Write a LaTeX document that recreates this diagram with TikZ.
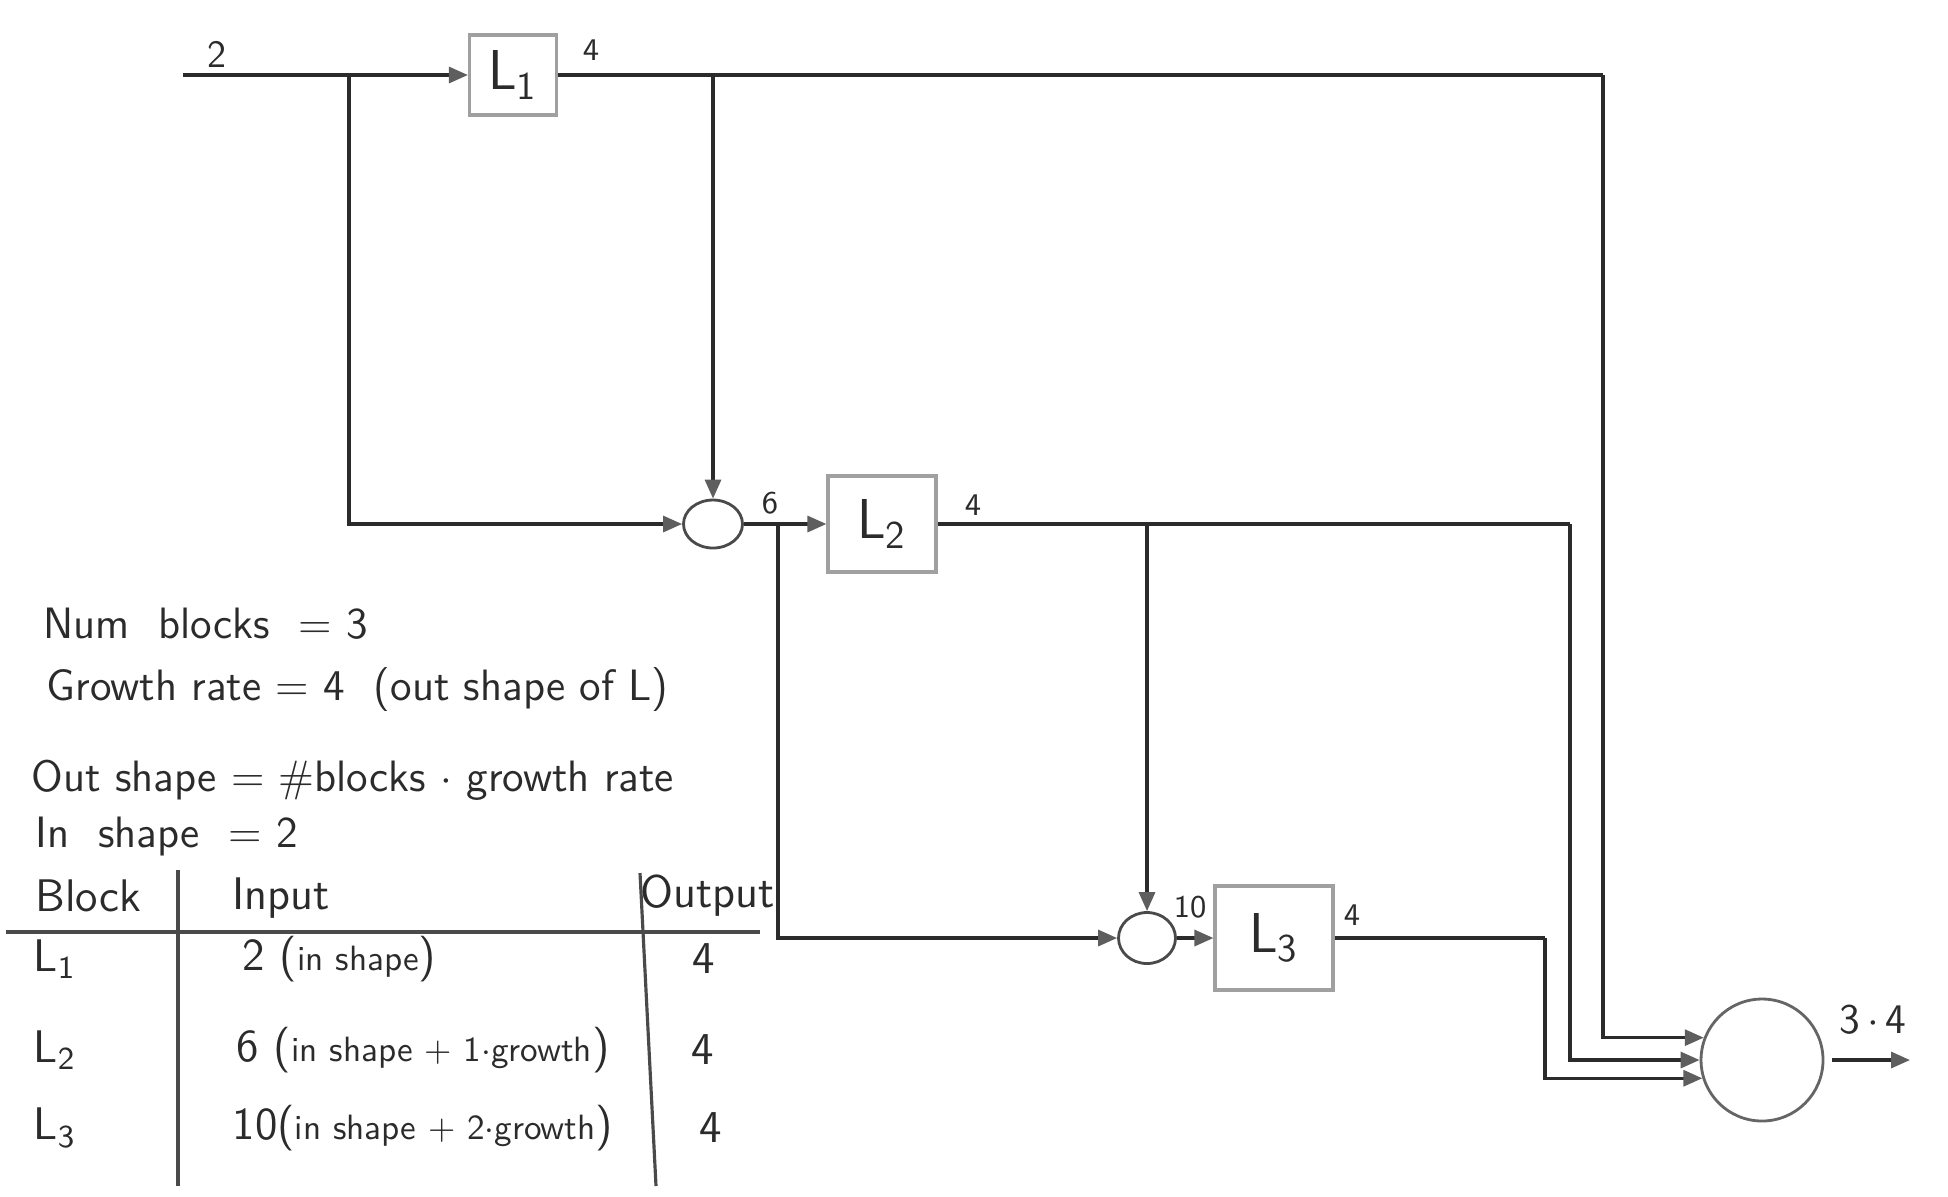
\documentclass[tikz,border=0pt]{standalone}
\usepackage{amsmath,amssymb}
\usepackage{xcolor}
\usepackage{tikz}
\usetikzlibrary{
  arrows.meta, positioning, shapes.geometric, calc
}
\definecolor{dnInk}{HTML}{2B2B2B}
\definecolor{dnPencil}{HTML}{A0A0A0}
\definecolor{dnTip}{HTML}{5E5E5E}
\definecolor{dnRing}{HTML}{4A4A4A}
\newcommand{\sz}[1]{\fontsize{#1}{#1}\selectfont}
\tikzset{
  dn-layer/.style={
    rectangle, draw=dnPencil, line width=0.9pt, fill=white,
    minimum width=9.6mm, minimum height=9mm, inner sep=0pt,
    font=\sffamily\sz{16}, text=dnInk
  },
  dn-cat/.style={
    ellipse, draw=dnRing, line width=0.8pt, fill=white,
    minimum width=5.9mm, minimum height=4.8mm, inner sep=0pt
  },
  dn-sum/.style={
    circle, draw=dnRing!85, line width=0.8pt, fill=white,
    minimum size=12.2mm, inner sep=0pt
  },
  dn-flow/.style={-{Triangle[length=1.9mm, width=1.6mm, color=dnTip]}, line width=0.9pt, draw=dnInk},
  dn-wire/.style={line width=0.9pt, draw=dnInk},
  dn-dim/.style={font=\sffamily\sz{9}, text=dnInk, inner sep=0pt},
  dn-note/.style={anchor=west, font=\sffamily\sz{12.5}, text=dnInk, inner sep=0pt},
  dn-cell/.style={anchor=west, font=\sffamily\sz{13}, text=dnInk, inner sep=0pt},
  dn-rule/.style={line width=0.9pt, draw=dnRing},
}

\begin{document}
\begin{tikzpicture}[x=0.1mm, y=-0.1mm, font=\sffamily]
  \fill[white] (0,0) rectangle (1948,1196);
  \useasboundingbox (0,0) rectangle (1948,1196);

  \node[dn-layer, minimum width=8.7mm, minimum height=8mm] (l1) at (513,75) {L\textsubscript{1}};
  \node[dn-cat] (s1) at (713,524) {};
  \node[dn-layer, minimum width=10.8mm, minimum height=9.6mm] (l2) at (882,524) {L\textsubscript{2}};
  \node[dn-cat, minimum width=5.7mm, minimum height=5.1mm] (s2) at (1147,938) {};
  \node[dn-layer, minimum width=11.8mm, minimum height=10.4mm] (l3) at (1274,938) {L\textsubscript{3}};
  \node[dn-sum] (sum) at (1762,1060) {};

  \coordinate (in)  at (183,75);
  \coordinate (res) at (1910,1060);
  \coordinate (t1)  at (349,75);
  \coordinate (t2)  at (s1 |- l1);
  \coordinate (t3)  at (778,524);
  \coordinate (t4)  at (s2 |- l2);
  \coordinate (k1)  at (1603,75);
  \coordinate (k2)  at (1570,524);
  \coordinate (k3)  at (1545,938);

  \draw[dn-flow] (in)  -- (l1);
  \draw[dn-flow] (t1)  |- (s1);
  \draw[dn-wire] (l1)  -- (k1);
  \draw[dn-flow] (k1)  |- (sum.159);
  \draw[dn-flow] (t2)  -- (s1);
  \draw[dn-flow] (s1)  -- (l2);
  \draw[dn-flow] (t3)  |- (s2);
  \draw[dn-wire] (l2)  -- (k2);
  \draw[dn-flow] (k2)  |- (sum.west);
  \draw[dn-flow] (t4)  -- (s2);
  \draw[dn-flow] (s2)  -- (l3);
  \draw[dn-wire] (l3)  -- (k3);
  \draw[dn-flow] (k3)  |- (sum.197);
  \draw[dn-flow, shorten <=0.8mm] (sum) -- (res);

  % channel counts
  \node[dn-dim, font=\sffamily\sz{11}] (d0) at (217,54) {2};
  \node[dn-dim] (d1) at (591,50)  {4};
  \node[dn-dim] (d2) at (770,503) {6};
  \node[dn-dim] (d3) at (973,505) {4};
  \node[dn-dim] (d4) at (1190,907) {10};
  \node[dn-dim] (d5) at (1352,915) {4};
  \node[dn-dim, font=\sffamily\sz{12}] (d6) at (1873,1020) {3\,$\cdot$\,4};

  % notes
  \node[dn-note] (nb) at (43,624) {Num\ \ blocks\ \ = 3};
  \node[dn-note] (gr) at (46,690) {Growth rate = 4\ \ (out shape of L)};
  \node[dn-note] (os) at (31,780) {Out shape = \#blocks $\cdot$ growth rate};
  \node[dn-note] (is) at (35,836) {In\ \ shape\ \ = 2};

  % table
  \node[dn-cell] (hb) at (35,896)  {Block};
  \node[dn-cell] (hi) at (232,898) {Input};
  \node[dn-cell] (ho) at (640,896) {Output};
  \node[dn-cell] (r1) at (33,959)   {L\textsubscript{1}};
  \node[dn-cell] (r2) at (33,1050)  {L\textsubscript{2}};
  \node[dn-cell] (r3) at (33,1128)  {L\textsubscript{3}};
  \node[dn-cell] (i1) at (242,959)  {2 ({\sz{10}in shape})};
  \node[dn-cell] (i2) at (236,1050) {6 ({\sz{10}in shape + 1$\cdot$growth})};
  \node[dn-cell] (i3) at (232,1128) {10({\sz{10}in shape + 2$\cdot$growth})};
  \node[dn-cell, anchor=center] (o1) at (704,959)  {4};
  \node[dn-cell, anchor=center] (o2) at (703,1050) {4};
  \node[dn-cell, anchor=center] (o3) at (711,1128) {4};

  \coordinate (ha) at (6,932);
  \coordinate (hz) at (760,932);
  \coordinate (va) at (178,870);
  \coordinate (vz) at (178,1186);
  \coordinate (wa) at (640,873);
  \coordinate (wz) at (656,1186);
  \draw[dn-rule, line width=1.2pt] (ha) -- (hz);
  \draw[dn-rule] (va) -- (vz);
  \draw[dn-rule] (wa) -- (wz);

\end{tikzpicture}
\end{document}
